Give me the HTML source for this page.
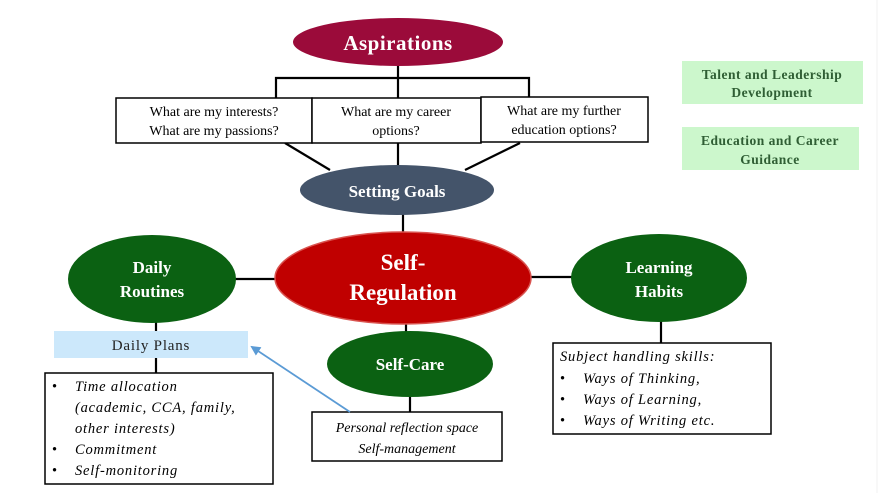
<!DOCTYPE html>
<html><head><meta charset="utf-8">
<style>
html,body{margin:0;padding:0;background:#fff;}
svg{display:block;}
text{font-family:"Liberation Serif",serif;}
</style></head>
<body>
<svg width="879" height="493" viewBox="0 0 879 493" xmlns="http://www.w3.org/2000/svg">
<defs>
<marker id="ah" markerWidth="10" markerHeight="10" refX="8" refY="5" orient="auto" markerUnits="userSpaceOnUse">
<path d="M0,0 L10,5 L0,10 z" fill="#5b9bd5"/>
</marker>
</defs>
<rect width="879" height="493" fill="#fff"/>
<line x1="877" y1="0" x2="877" y2="493" stroke="#f0f0f0" stroke-width="1"/>

<g stroke="#000" stroke-width="2.2" fill="none">
<line x1="398" y1="64" x2="398" y2="98"/>
<polyline points="276,98 276,78 529,78 529,98"/>
<line x1="285" y1="143" x2="330" y2="170"/>
<line x1="398" y1="143" x2="398" y2="166"/>
<line x1="520" y1="143" x2="465" y2="170"/>
<line x1="403" y1="214" x2="403" y2="234"/>
<line x1="234" y1="279" x2="277" y2="279"/>
<line x1="529" y1="277" x2="573" y2="277"/>
<line x1="156" y1="322" x2="156" y2="331"/>
<line x1="156" y1="358" x2="156" y2="373"/>
<line x1="406" y1="323" x2="406" y2="333"/>
<line x1="410" y1="396" x2="410" y2="412"/>
<line x1="661" y1="321" x2="661" y2="343"/>
</g>

<ellipse cx="398" cy="42" rx="105" ry="24" fill="#9b0b3a"/>
<text x="398" y="50" text-anchor="middle" font-size="21" font-weight="bold" fill="#fff" letter-spacing="0.5">Aspirations</text>

<g stroke="#000" stroke-width="1.5" fill="#fff">
<rect x="116" y="98" width="196" height="45"/>
<rect x="312" y="98" width="169" height="45"/>
<rect x="481" y="97" width="167" height="45"/>
</g>
<g font-size="14" fill="#000" text-anchor="middle">
<text x="214" y="116">What are my  interests?</text>
<text x="214" y="135">What are my passions?</text>
<text x="396" y="116">What are my career</text>
<text x="396" y="135">options?</text>
<text x="564" y="115">What are my further</text>
<text x="564" y="134">education options?</text>
</g>

<ellipse cx="397" cy="190" rx="97" ry="25" fill="#44546a"/>
<text x="397" y="197" text-anchor="middle" font-size="17" font-weight="bold" fill="#fff">Setting Goals</text>

<ellipse cx="403" cy="278" rx="128" ry="46" fill="#c00000" stroke="#d9534f" stroke-width="1.5"/>
<text x="403" y="270" text-anchor="middle" font-size="23" font-weight="bold" fill="#fff">Self-</text>
<text x="403" y="300" text-anchor="middle" font-size="23" font-weight="bold" fill="#fff">Regulation</text>

<ellipse cx="152" cy="279" rx="84" ry="44" fill="#0b6112"/>
<text x="152" y="273" text-anchor="middle" font-size="17" font-weight="bold" fill="#fff">Daily</text>
<text x="152" y="297" text-anchor="middle" font-size="17" font-weight="bold" fill="#fff">Routines</text>

<ellipse cx="659" cy="278" rx="88" ry="44" fill="#0b6112"/>
<text x="659" y="273" text-anchor="middle" font-size="17" font-weight="bold" fill="#fff">Learning</text>
<text x="659" y="297" text-anchor="middle" font-size="17" font-weight="bold" fill="#fff">Habits</text>

<ellipse cx="410" cy="364" rx="83" ry="33" fill="#0b6112"/>
<text x="410" y="370" text-anchor="middle" font-size="17" font-weight="bold" fill="#fff">Self-Care</text>

<rect x="54" y="331" width="194" height="27" fill="#cce8fb"/>
<text x="151" y="350" text-anchor="middle" font-size="15" fill="#222" letter-spacing="0.8">Daily Plans</text>

<rect x="45" y="373" width="228" height="111" fill="#fff" stroke="#000" stroke-width="1.5"/>
<g font-size="14.5" font-style="italic" fill="#000" letter-spacing="0.8">
<text x="52" y="391" font-style="normal">•</text>
<text x="75" y="391">Time allocation</text>
<text x="75" y="412">(academic, CCA, family,</text>
<text x="75" y="433">other interests)</text>
<text x="52" y="454" font-style="normal">•</text>
<text x="75" y="454">Commitment</text>
<text x="52" y="475" font-style="normal">•</text>
<text x="75" y="475">Self-monitoring</text>
</g>

<rect x="312" y="412" width="190" height="49" fill="#fff" stroke="#000" stroke-width="1.5"/>
<text x="407" y="432" text-anchor="middle" font-size="14" font-style="italic" fill="#000">Personal reflection space</text>
<text x="407" y="453" text-anchor="middle" font-size="14" font-style="italic" fill="#000">Self-management</text>

<line x1="350" y1="412" x2="252" y2="347" stroke="#5b9bd5" stroke-width="1.8" marker-end="url(#ah)"/>

<rect x="553" y="343" width="218" height="91" fill="#fff" stroke="#000" stroke-width="1.5"/>
<g font-size="14.5" font-style="italic" fill="#000" letter-spacing="0.8">
<text x="560" y="361">Subject handling skills:</text>
<text x="560" y="383" font-style="normal">•</text>
<text x="583" y="383">Ways of Thinking,</text>
<text x="560" y="404" font-style="normal">•</text>
<text x="583" y="404">Ways of Learning,</text>
<text x="560" y="425" font-style="normal">•</text>
<text x="583" y="425">Ways of Writing etc.</text>
</g>

<rect x="682" y="61" width="181" height="43" fill="#ccf7cc"/>
<text x="772" y="79" text-anchor="middle" font-size="13.5" font-weight="bold" fill="#2f5e34" letter-spacing="0.5">Talent and Leadership</text>
<text x="772" y="97" text-anchor="middle" font-size="13.5" font-weight="bold" fill="#2f5e34" letter-spacing="0.5">Development</text>
<rect x="682" y="127" width="177" height="43" fill="#ccf7cc"/>
<text x="770" y="145" text-anchor="middle" font-size="13.5" font-weight="bold" fill="#2f5e34" letter-spacing="0.5">Education and Career</text>
<text x="770" y="164" text-anchor="middle" font-size="13.5" font-weight="bold" fill="#2f5e34" letter-spacing="0.5">Guidance</text>
</svg>
</body></html>
